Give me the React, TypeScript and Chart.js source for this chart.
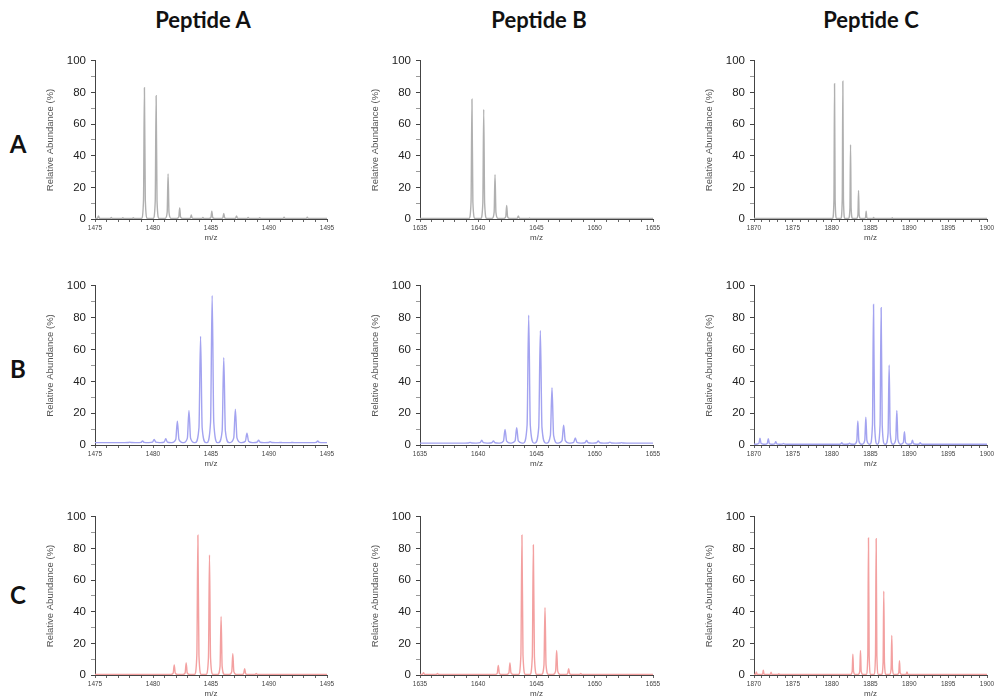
import React, { useEffect, useRef } from "react";
import { Chart, registerables } from "chart.js";
Chart.register(...registerables);

// ---- Column titles / row labels ----
const peptideTitles = ["Peptide A", "Peptide B", "Peptide C"];
const rowLabels = ["A", "B", "C"];

// ---- x ranges per peptide ----
const xMins = [1475, 1635, 1870];
const xMaxs = [1495, 1655, 1900];

// ---- Peptide A ----
const pepA_rowA_mz = [1475.3, 1476.4, 1477.4, 1478.3, 1479.26, 1480.27, 1481.3, 1482.3, 1483.3, 1484.3, 1485.07, 1486.1, 1487.2, 1488.2, 1489.2, 1491.3, 1493.3];
const pepA_rowA_int = [2, 1, 0.8, 0.8, 83, 78, 28.5, 7, 2.5, 1, 5, 3.5, 2, 1, 0.8, 1.2, 1.2];
const pepA_rowB_mz = [1478.0, 1479.1, 1480.1, 1481.1, 1482.1, 1483.1, 1484.1, 1485.1, 1486.1, 1487.1, 1488.1, 1489.1, 1490.1, 1491.0, 1492.0, 1494.2];
const pepA_rowB_int = [1.8, 2.5, 3.5, 4, 15, 21.7, 68.3, 94, 54.8, 22.5, 7.4, 3, 2, 1.6, 1.6, 2.5];
const pepA_rowC_mz = [1481.83, 1482.86, 1483.87, 1484.87, 1485.87, 1486.88, 1487.9, 1488.9];
const pepA_rowC_int = [6.4, 7.7, 88.4, 76, 37, 13.5, 4, 1];

// ---- Peptide B ----
const pepB_rowA_mz = [1639.46, 1640.47, 1641.44, 1642.44, 1643.44, 1644.4];
const pepB_rowA_int = [75.7, 69.3, 28, 8.6, 2, 0.6];
const pepB_rowB_mz = [1639.3, 1640.3, 1641.3, 1642.3, 1643.3, 1644.33, 1645.33, 1646.33, 1647.33, 1648.33, 1649.3, 1650.3, 1651.3, 1652.3];
const pepB_rowB_int = [1.6, 3, 2.5, 9.8, 10.8, 81.6, 72, 36, 12.5, 4.5, 2.8, 2.5, 1.8, 1.5];
const pepB_rowC_mz = [1635.3, 1636.5, 1641.72, 1642.72, 1643.75, 1644.73, 1645.73, 1646.73, 1647.76, 1648.8];
const pepB_rowC_int = [1.5, 1, 6, 7.6, 88.5, 82.3, 42.7, 15.5, 4, 1];

// ---- Peptide C ----
const pepC_rowA_mz = [1880.37, 1881.44, 1882.43, 1883.46, 1884.44, 1885.4, 1887.8];
const pepC_rowA_int = [85.6, 87.2, 47, 18, 5, 1, 0.8];
const pepC_rowB_mz = [1870.77, 1871.84, 1872.8, 1873.8, 1881.3, 1882.3, 1883.37, 1884.4, 1885.39, 1886.37, 1887.4, 1888.39, 1889.37, 1890.4, 1891.4];
const pepC_rowB_int = [4.3, 4, 2, 1, 1.5, 1.2, 15.1, 17.4, 88.3, 86.3, 50.3, 21.7, 8.4, 3, 1.5];
const pepC_rowC_mz = [1870.3, 1871.2, 1872.2, 1873.2, 1882.73, 1883.71, 1884.74, 1885.73, 1886.71, 1887.74, 1888.73, 1889.7];
const pepC_rowC_int = [2, 3, 1.8, 0.8, 13.1, 15.6, 86.7, 86.2, 53, 25, 9, 2];

// ---- baselines per row/peptide ----
const baselines = [
  [0.3, 0.3, 0.3],
  [1.5, 1.2, 0.5],
  [0.3, 0.3, 0.3],
];

const spectra = [
  [[pepA_rowA_mz, pepA_rowA_int], [pepB_rowA_mz, pepB_rowA_int], [pepC_rowA_mz, pepC_rowA_int]],
  [[pepA_rowB_mz, pepA_rowB_int], [pepB_rowB_mz, pepB_rowB_int], [pepC_rowB_mz, pepC_rowB_int]],
  [[pepA_rowC_mz, pepA_rowC_int], [pepB_rowC_mz, pepB_rowC_int], [pepC_rowC_mz, pepC_rowC_int]],
];

// ---- styling / layout ----
const rowColors = ["#b0b0b0", "#a3a3f0", "#f3a0a0"];
const rowPeakHalfWidth = [0.26, 0.46, 0.3];
const colLefts = [95, 420, 754];
const colWidths = [232, 233, 233];
const rowTops = [57, 282, 513];
const rowHeights = [162, 163, 162];
const Y_AXIS_W = 50;
const X_AXIS_H = 24;
const PAD_TOP = 8;
const PAD_RIGHT = 12;

function buildPoints(mz: number[], ints: number[], base: number, w: number, xmin: number, xmax: number) {
  const pts: { x: number; y: number }[] = [{ x: xmin, y: base }];
  const offs = [-1, -0.3, 0, 0.3, 1];
  const fr = [0, 0.14, 1, 0.14, 0];
  const order = mz.map((m, i) => i).sort((a, b) => mz[a] - mz[b]);
  for (const i of order) {
    for (let k = 0; k < offs.length; k++) {
      pts.push({ x: mz[i] + offs[k] * w, y: base + fr[k] * (ints[i] - base) });
    }
  }
  pts.push({ x: xmax, y: base });
  return pts;
}

function Panel({ row, col }: { row: number; col: number }) {
  const ref = useRef<HTMLCanvasElement>(null);
  const w = Y_AXIS_W + colWidths[col] + PAD_RIGHT;
  const h = PAD_TOP + rowHeights[row] + X_AXIS_H;
  useEffect(() => {
    if (!ref.current) return;
    const [mz, ints] = spectra[row][col];
    const data = buildPoints(mz, ints, baselines[row][col], rowPeakHalfWidth[row], xMins[col], xMaxs[col]);
    const chart = new Chart(ref.current, {
      type: "line",
      data: {
        datasets: [
          {
            data,
            borderColor: rowColors[row],
            borderWidth: 1.4,
            pointRadius: 0,
            cubicInterpolationMode: "monotone",
            fill: false,
          },
        ],
      },
      options: {
        animation: false,
        responsive: false,
        maintainAspectRatio: false,
        layout: { padding: { top: PAD_TOP, right: PAD_RIGHT, left: 0, bottom: 0 } },
        plugins: { legend: { display: false }, tooltip: { enabled: false } },
        scales: {
          x: {
            type: "linear",
            min: xMins[col],
            max: xMaxs[col],
            afterFit: (s: any) => {
              s.height = X_AXIS_H;
            },
            grid: {
              drawOnChartArea: false,
              drawTicks: true,
              tickLength: 3,
              tickColor: "#666",
            },
            border: { display: true, color: "#444", width: 1 },
            ticks: {
              stepSize: 1,
              autoSkip: false,
              maxRotation: 0,
              minRotation: 0,
              padding: 2,
              color: "#444",
              font: { family: "'Liberation Sans', Arial, sans-serif", size: 6.5 },
              callback: (v: any) => (Number(v) % 5 === 0 ? String(v) : ""),
            },
            title: {
              display: true,
              text: "m/z",
              color: "#444",
              padding: 0,
              font: { family: "'Liberation Sans', Arial, sans-serif", size: 8 },
            },
          },
          y: {
            min: 0,
            max: 100,
            afterFit: (s: any) => {
              s.width = Y_AXIS_W;
            },
            grid: {
              drawOnChartArea: false,
              drawTicks: true,
              tickLength: 4,
              tickColor: (c: any) => (c.tick && c.tick.value % 20 === 0 ? "#444" : "#999"),
            },
            border: { display: true, color: "#444", width: 1 },
            ticks: {
              stepSize: 10,
              autoSkip: false,
              padding: 5,
              color: "#222",
              font: { family: "'Liberation Sans', Arial, sans-serif", size: 11.5 },
              callback: (v: any) => (Number(v) % 20 === 0 ? String(v) : ""),
            },
            title: {
              display: true,
              text: "Relative Abundance (%)",
              color: "#555",
              padding: { top: 0, bottom: 0 },
              font: { family: "'Liberation Sans', Arial, sans-serif", size: 9.5 },
            },
          },
        },
      },
    });
    return () => chart.destroy();
  }, [row, col]);
  return (
    <canvas
      ref={ref}
      width={w}
      height={h}
      style={{
        position: "absolute",
        left: colLefts[col] - Y_AXIS_W,
        top: rowTops[row] - PAD_TOP,
        width: w,
        height: h,
      }}
    />
  );
}

const titleCenters = [203, 539, 871];
const rowLabelY = [143, 368, 594];

export default function App() {
  const cells = [];
  for (let r = 0; r < 3; r++) for (let c = 0; c < 3; c++) cells.push(<Panel key={`${r}-${c}`} row={r} col={c} />);
  return (
    <div
      style={{
        position: "absolute",
        left: 0,
        top: 0,
        width: 994,
        height: 698,
        overflow: "hidden",
        background: "#fff",
      }}
    >
      {peptideTitles.map((t, i) => (
        <div
          key={t}
          style={{
            position: "absolute",
            left: titleCenters[i] - 100,
            width: 200,
            top: 6,
            textAlign: "center",
            fontFamily: "Lato, 'Open Sans', sans-serif",
            fontWeight: 700,
            fontSize: 22,
            color: "#111",
          }}
        >
          {t}
        </div>
      ))}
      {rowLabels.map((t, i) => (
        <div
          key={t}
          style={{
            position: "absolute",
            left: 0,
            width: 36,
            top: rowLabelY[i] - 14,
            textAlign: "center",
            fontFamily: "Lato, 'Open Sans', sans-serif",
            fontWeight: 700,
            fontSize: 24,
            color: "#111",
          }}
        >
          {t}
        </div>
      ))}
      {cells}
    </div>
  );
}
